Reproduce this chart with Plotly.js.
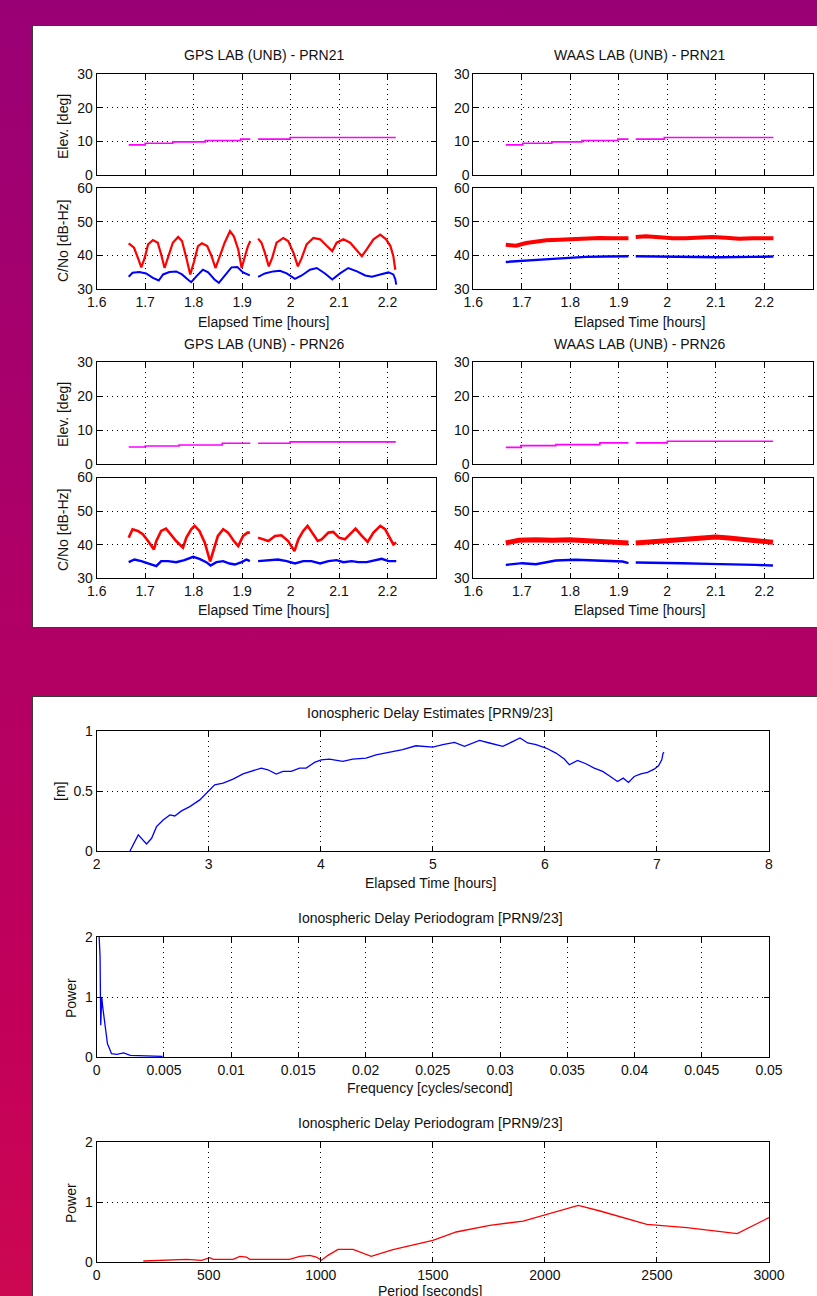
<!DOCTYPE html>
<html>
<head>
<meta charset="utf-8">
<script src="https://cdn.plot.ly/plotly-3.0.1.min.js"></script>
<style>
  html, body { margin:0; padding:0; width:817px; height:1296px; overflow:hidden; }
  body { background: linear-gradient(to bottom, #9a0075 0%, #a8006c 30%, #b30064 52%, #c2005a 78%, #cc0852 100%); position:relative; }
  .panel { position:absolute; background:#fff; border:1px solid #3a3a3a; box-sizing:border-box; }
  #chart { position:absolute; left:0; top:0; width:817px; height:1296px; }
</style>
</head>
<body>
<div class="panel" style="left:32px; top:25px; width:800px; height:603px;"></div>
<div class="panel" style="left:32px; top:696px; width:800px; height:700px;"></div>
<div id="chart"></div>
<script>
// ---------------- DATA ----------------
// Elevation (deg), step series; null = data gap
const gps21ElevT  = [1.666,1.700,1.757,1.824,1.897,1.917,null,1.933,1.999,2.217];
const gps21ElevV  = [9.0,9.5,9.9,10.3,10.7,10.7,null,10.7,11.2,11.2];
const waas21ElevT = [1.667,1.702,1.762,1.824,1.898,1.920,null,1.935,1.994,2.219];
const waas21ElevV = [9.0,9.5,9.9,10.3,10.7,10.7,null,10.7,11.2,11.2];
const gps26ElevT  = [1.666,1.700,1.770,1.859,1.917,null,1.933,1.999,2.217];
const gps26ElevV  = [5.0,5.3,5.6,6.1,6.1,null,6.1,6.5,6.5];
const waas26ElevT = [1.667,1.698,1.770,1.861,1.920,null,1.935,2.000,2.218];
const waas26ElevV = [4.9,5.4,5.7,6.2,6.2,null,6.2,6.7,6.7];

// C/No (dB-Hz) – red series
const gps21RedT = [1.666,1.677,1.685,1.692,1.699,1.706,1.716,1.726,1.733,1.740,1.748,1.757,1.768,1.776,1.785,1.793,1.801,1.809,1.817,1.828,1.837,1.845,1.854,1.864,1.875,1.883,1.892,1.899,1.906,1.912,1.917,null,
                   1.933,1.940,1.947,1.955,1.962,1.971,1.985,1.995,2.006,2.015,2.023,2.033,2.047,2.061,2.075,2.086,2.095,2.109,2.123,2.137,2.147,2.157,2.171,2.185,2.197,2.206,2.212,2.216];
const gps21RedV = [43.6,42.3,39.3,36.5,39.3,43.3,44.6,43.8,40.3,36.3,39.8,43.8,45.5,44.3,39.3,34.4,38.3,42.8,43.6,42.8,39.8,36.3,39.8,43.8,47.2,45.7,41.8,36.3,39.8,42.8,44.3,null,
                   45.0,43.8,40.8,36.8,39.3,43.8,45.2,44.3,40.8,36.8,39.3,43.3,45.2,44.8,42.8,41.3,43.8,44.8,43.8,41.3,39.8,41.8,44.8,46.2,44.8,42.8,39.8,35.8];
// C/No – blue series
const gps21BlueT = [1.666,1.674,1.688,1.702,1.716,1.728,1.737,1.750,1.764,1.776,1.788,1.795,1.806,1.819,1.830,1.843,1.852,1.864,1.878,1.890,1.902,1.916,null,
                    1.933,1.947,1.964,1.978,1.992,2.009,2.023,2.040,2.054,2.071,2.086,2.102,2.119,2.137,2.154,2.168,2.185,2.202,2.212,2.216,2.218];
const gps21BlueV = [33.7,34.9,35.1,34.7,33.4,32.6,34.4,35.1,35.3,34.4,32.9,32.1,33.9,35.8,35.0,32.9,31.9,33.9,36.5,36.6,35.0,34.1,null,
                    33.7,34.7,35.3,35.5,34.7,33.1,34.1,35.8,36.3,34.7,32.9,34.7,36.3,35.3,34.1,33.7,34.4,35.0,34.4,33.0,31.4];

const waas21RedT = [1.667,1.688,1.709,1.729,1.750,1.777,1.805,1.832,1.860,1.887,1.915,1.920,null,
                    1.935,1.956,1.984,2.011,2.038,2.066,2.093,2.121,2.148,2.176,2.203,2.219];
const waas21RedV = [43.2,42.9,43.7,44.2,44.5,44.7,44.9,45.1,45.2,45.1,45.2,45.1,null,
                    45.5,45.7,45.4,45.1,45.1,45.4,45.5,45.3,45.0,45.1,45.2,45.1];
const waas21BlueT = [1.667,1.695,1.722,1.764,1.798,1.832,1.874,1.920,null,1.935,1.970,2.038,2.107,2.176,2.219];
const waas21BlueV = [38.1,38.3,38.6,39.0,39.3,39.6,39.7,39.8,null,39.8,39.7,39.6,39.5,39.6,39.7];

const gps26RedT = [1.666,1.674,1.685,1.695,1.706,1.714,1.718,1.723,1.733,1.743,1.752,1.764,1.778,1.785,1.795,1.802,1.812,1.823,1.834,1.840,1.850,1.861,1.871,1.883,1.892,1.902,1.911,1.916,null,
                   1.933,1.943,1.954,1.968,1.981,1.995,2.008,2.016,2.026,2.035,2.045,2.056,2.064,2.078,2.088,2.100,2.112,2.126,2.134,2.147,2.159,2.171,2.185,2.195,2.206,2.212,2.218];
const gps26RedV = [42.1,44.6,44.1,43.1,41.1,39.6,38.6,41.1,44.1,44.8,43.1,41.1,39.1,42.1,44.6,45.6,44.1,40.6,35.0,38.1,42.6,44.6,43.6,41.1,39.6,42.6,43.6,43.6,null,
                   42.1,41.6,41.1,42.6,42.8,41.1,38.1,41.6,44.1,45.6,43.6,41.1,41.6,43.6,43.8,42.1,41.6,43.6,44.8,42.6,40.8,43.6,45.6,44.6,41.6,40.1,40.6];
const gps26BlueT = [1.666,1.678,1.692,1.706,1.723,1.733,1.747,1.764,1.781,1.799,1.812,1.826,1.835,1.847,1.861,1.874,1.885,1.899,1.909,1.916,null,
                    1.933,1.954,1.974,1.992,2.009,2.026,2.043,2.061,2.078,2.095,2.109,2.126,2.140,2.157,2.174,2.188,2.202,2.218];
const gps26BlueV = [34.8,35.6,35.1,34.4,33.6,35.1,35.1,34.8,35.4,36.4,35.8,34.8,33.8,34.8,35.1,34.4,34.1,34.8,35.6,35.1,null,
                    35.1,35.4,35.6,35.1,34.4,35.1,35.1,34.4,35.1,35.4,34.8,35.1,34.8,34.8,35.4,35.8,35.1,35.1];

const waas26RedT = [1.667,1.694,1.729,1.763,1.798,1.832,1.866,1.901,1.920,null,
                    1.935,1.969,2.004,2.038,2.072,2.100,2.127,2.162,2.196,2.218];
const waas26RedV = [40.5,41.3,41.5,41.3,41.5,41.3,41.0,40.7,40.5,null,
                    40.5,40.8,41.3,41.7,42.0,42.3,42.0,41.5,41.0,40.7];
const waas26BlueT = [1.667,1.701,1.729,1.770,1.811,1.866,1.908,1.920,null,1.935,1.976,2.031,2.086,2.141,2.182,2.218];
const waas26BlueV = [34.0,34.5,34.2,35.3,35.5,35.3,35.0,34.5,null,34.7,34.7,34.5,34.3,34.2,34.0,33.8];

// Ionospheric delay estimates (m) vs elapsed time (hours)
const ionoT = [2.297,2.371,2.445,2.490,2.534,2.593,2.653,2.697,2.757,2.831,2.920,2.994,3.053,3.128,3.217,3.306,3.395,3.469,3.528,3.602,3.662,3.736,3.810,3.869,3.944,4.003,4.077,4.196,4.285,4.404,4.493,4.611,4.730,4.849,4.967,
               5.000,5.089,5.193,5.282,5.416,5.505,5.624,5.698,5.778,5.846,5.921,6.010,6.099,6.173,6.218,6.292,6.366,6.440,6.515,6.574,6.648,6.699,6.746,6.797,6.856,6.916,6.975,7.014,7.043,7.055,7.064];
const ionoV = [0.000,0.134,0.058,0.106,0.203,0.259,0.301,0.292,0.334,0.370,0.426,0.496,0.552,0.565,0.599,0.643,0.671,0.691,0.677,0.641,0.663,0.663,0.691,0.691,0.738,0.760,0.766,0.747,0.766,0.774,0.802,0.822,0.844,0.877,0.866,
               0.866,0.886,0.905,0.872,0.922,0.900,0.872,0.905,0.942,0.900,0.886,0.858,0.816,0.766,0.719,0.755,0.727,0.691,0.663,0.627,0.579,0.607,0.571,0.621,0.643,0.655,0.682,0.710,0.760,0.816,0.822];

// Periodogram vs frequency (cycles/second)
const freqF = [0.000125,0.00025,0.0003,0.000375,0.00045,0.00055,0.000675,0.0008,0.00095,0.0011,0.0015,0.002,0.0025,0.00325,0.00425,0.0049];
const freqP = [2.3,1.67,0.53,1.0,0.83,0.64,0.39,0.22,0.14,0.056,0.044,0.067,0.028,0.022,0.017,0.01];

// Periodogram vs period (seconds)
const periodS = [208,312,401,468,505,520,609,639,668,683,861,906,951,980,1003,1032,1077,1144,1225,1322,1441,1500,1604,1754,1903,2000,2149,2246,2455,2634,2858,3000];
const periodP = [0.017,0.028,0.044,0.028,0.072,0.044,0.044,0.094,0.083,0.044,0.044,0.094,0.111,0.083,0.028,0.111,0.211,0.211,0.094,0.206,0.306,0.361,0.5,0.611,0.683,0.783,0.944,0.85,0.628,0.572,0.472,0.74];

// Tick values
const timeTicks  = [1.6,1.7,1.8,1.9,2.0,2.1,2.2];
const elevTicks  = [0,10,20,30];
const cnoTicks   = [30,40,50,60];
const ionoXTicks = [2,3,4,5,6,7,8];
const ionoYTicks = [0,0.5,1];
const freqTicks  = [0,0.005,0.01,0.015,0.02,0.025,0.03,0.035,0.04,0.045,0.05];
const freqTickText = ['0','0.005','0.01','0.015','0.02','0.025','0.03','0.035','0.04','0.045','0.05'];
const powerTicks = [0,1,2];
const periodTicks = [0,500,1000,1500,2000,2500,3000];

// ---------------- LAYOUT ----------------
const W = 817, H = 1296;
const px = x => x / W;
const py = y => 1 - y / H;
const dx = (a, b) => [px(a), px(b)];
const dy = (top, bot) => [py(bot), py(top)];

const FONT = 'Liberation Sans, Arial, Helvetica, sans-serif';
const TXT = '#111';

function axis(domain, anchor, range, tickvals, showLabels, extra) {
  return Object.assign({
    domain: domain, anchor: anchor, range: range,
    tickmode: 'array', tickvals: tickvals,
    showticklabels: showLabels,
    ticks: 'inside', ticklen: 5, tickwidth: 1, tickcolor: '#000',
    showline: true, linecolor: '#000', linewidth: 1, mirror: 'ticks',
    showgrid: true, gridcolor: '#000', gridwidth: 1, griddash: '1px,4px',
    zeroline: false, fixedrange: true,
    tickfont: { family: FONT, size: 14, color: TXT }
  }, extra || {});
}

const Lx = dx(96.7, 436), Rx = dx(473.3, 812.7), Bx = dx(96.7, 769);
const tFmt = { tickformat: '.1~f' };
const tR = [1.6, 2.3];

const layout = {
  width: W, height: H,
  margin: { l: 0, r: 0, t: 0, b: 0, pad: 0 },
  paper_bgcolor: 'rgba(0,0,0,0)',
  plot_bgcolor: 'rgba(0,0,0,0)',
  showlegend: false,
  font: { family: FONT, size: 14, color: TXT },
  xaxis:  axis(Lx, 'y',  tR, timeTicks, false),
  yaxis:  axis(dy(74, 175.3), 'x', [0, 30], elevTicks, true),
  xaxis2: axis(Lx, 'y2', tR, timeTicks, true, tFmt),
  yaxis2: axis(dy(188, 289.3), 'x2', [30, 60], cnoTicks, true),
  xaxis3: axis(Rx, 'y3', tR, timeTicks, false),
  yaxis3: axis(dy(74, 175.3), 'x3', [0, 30], elevTicks, true),
  xaxis4: axis(Rx, 'y4', tR, timeTicks, true, tFmt),
  yaxis4: axis(dy(188, 289.3), 'x4', [30, 60], cnoTicks, true),
  xaxis5: axis(Lx, 'y5', tR, timeTicks, false),
  yaxis5: axis(dy(362, 464), 'x5', [0, 30], elevTicks, true),
  xaxis6: axis(Lx, 'y6', tR, timeTicks, true, tFmt),
  yaxis6: axis(dy(477.5, 578.3), 'x6', [30, 60], cnoTicks, true),
  xaxis7: axis(Rx, 'y7', tR, timeTicks, false),
  yaxis7: axis(dy(362, 464), 'x7', [0, 30], elevTicks, true),
  xaxis8: axis(Rx, 'y8', tR, timeTicks, true, tFmt),
  yaxis8: axis(dy(477.5, 578.3), 'x8', [30, 60], cnoTicks, true),
  xaxis9:  axis(Bx, 'y9',  [2, 8], ionoXTicks, true),
  yaxis9:  axis(dy(731, 851), 'x9', [0, 1], ionoYTicks, true),
  xaxis10: axis(Bx, 'y10', [0, 0.05], freqTicks, true, { ticktext: freqTickText }),
  yaxis10: axis(dy(937, 1057), 'x10', [0, 2], powerTicks, true),
  xaxis11: axis(Bx, 'y11', [0, 3000], periodTicks, true),
  yaxis11: axis(dy(1142, 1262), 'x11', [0, 2], powerTicks, true),
  annotations: []
};

function note(text, x, y, rot) {
  layout.annotations.push({
    text: text, xref: 'paper', yref: 'paper', x: px(x), y: py(y),
    xanchor: 'center', yanchor: 'middle', showarrow: false,
    textangle: rot ? -90 : 0,
    font: { family: FONT, size: 14, color: TXT }
  });
}
note('GPS LAB (UNB) - PRN21', 264, 55);
note('WAAS LAB (UNB) - PRN21', 640, 55);
note('GPS LAB (UNB) - PRN26', 264, 344);
note('WAAS LAB (UNB) - PRN26', 640, 344);
note('Elapsed Time [hours]', 264, 322);
note('Elapsed Time [hours]', 640, 322);
note('Elapsed Time [hours]', 264, 610);
note('Elapsed Time [hours]', 640, 610);
note('Elev. [deg]', 63, 127, true);
note('C/No [dB-Hz]', 63, 241, true);
note('Elev. [deg]', 63, 415, true);
note('C/No [dB-Hz]', 63, 530, true);
note('Ionospheric Delay Estimates [PRN9/23]', 430, 713);
note('Elapsed Time [hours]', 431, 883);
note('[m]', 60, 792, true);
note('Ionospheric Delay Periodogram [PRN9/23]', 430, 918);
note('Frequency [cycles/second]', 430, 1088);
note('Power', 71, 998, true);
note('Ionospheric Delay Periodogram [PRN9/23]', 430, 1123);
note('Period [seconds]', 430, 1291);
note('Power', 71, 1203, true);

// ---------------- TRACES ----------------
function ln(x, y, ax, color, width, shape) {
  return { type: 'scatter', mode: 'lines', x: x, y: y,
    xaxis: 'x' + (ax === 1 ? '' : ax), yaxis: 'y' + (ax === 1 ? '' : ax),
    line: { color: color, width: width, shape: shape || 'linear' },
    connectgaps: false, hoverinfo: 'skip' };
}
const RED = '#ff0000', BLUE = '#0000ff', MAG = '#ff00ff';
const traces = [
  ln(gps21ElevT, gps21ElevV, 1, MAG, 1.6, 'hv'),
  ln(gps21RedT, gps21RedV, 2, RED, 2.2),
  ln(gps21BlueT, gps21BlueV, 2, BLUE, 2),
  ln(waas21ElevT, waas21ElevV, 3, MAG, 1.6, 'hv'),
  ln(waas21RedT, waas21RedV, 4, RED, 4),
  ln(waas21BlueT, waas21BlueV, 4, BLUE, 2.4),
  ln(gps26ElevT, gps26ElevV, 5, MAG, 1.6, 'hv'),
  ln(gps26RedT, gps26RedV, 6, RED, 2.6),
  ln(gps26BlueT, gps26BlueV, 6, BLUE, 2.4),
  ln(waas26ElevT, waas26ElevV, 7, MAG, 1.6, 'hv'),
  ln(waas26RedT, waas26RedV, 8, RED, 5),
  ln(waas26BlueT, waas26BlueV, 8, BLUE, 2.4),
  ln(ionoT, ionoV, 9, BLUE, 1.3),
  ln(freqF, freqP, 10, BLUE, 1.3),
  ln(periodS, periodP, 11, RED, 1.3)
];

Plotly.newPlot('chart', traces, layout, { displayModeBar: false, staticPlot: true });
</script>
</body>
</html>
